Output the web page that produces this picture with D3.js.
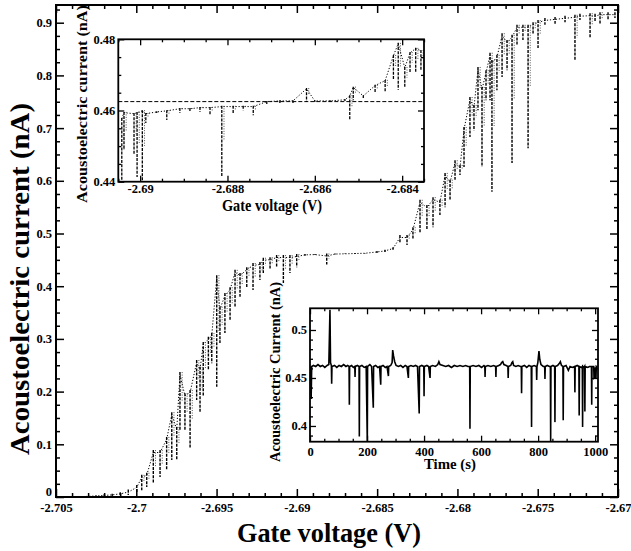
<!DOCTYPE html>
<html><head><meta charset="utf-8">
<script src="https://cdn.jsdelivr.net/npm/d3@7"></script>
<style>
body{margin:0;background:#fff}
svg{display:block}
text{font-family:"Liberation Serif","DejaVu Serif",serif;font-weight:bold;fill:#000}
</style>
</head><body>
<svg id="c" width="631" height="551"></svg>
<script>
// Full gate sweep: gate voltage (V) with the lower / upper extent of the current (nA) at each step
const sweepV = [-2.7048,-2.7040,-2.7032,-2.7025,-2.7020,-2.7015,-2.7010,-2.7005,-2.69997,-2.69966,
  -2.69935,-2.69894,-2.69852,-2.69811,-2.69779,-2.69748,-2.69728,-2.69697,-2.69665,-2.69624,
  -2.69603,-2.69583,-2.69551,-2.69530,-2.69499,-2.69479,-2.69448,-2.69416,-2.69385,-2.69354,
  -2.69312,-2.69273,-2.69230,-2.69209,-2.69167,-2.69126,-2.69084,-2.69043,-2.69001,-2.68949,
  -2.68887,-2.68814,-2.68762,-2.68700,-2.68638,-2.68576,-2.68501,-2.68451,-2.68401,-2.68358,
  -2.68314,-2.68277,-2.68233,-2.68190,-2.68152,-2.68109,-2.68077,-2.68046,-2.68015,-2.67984,
  -2.67959,-2.67922,-2.67897,-2.67872,-2.67847,-2.67822,-2.67797,-2.67785,-2.67754,-2.67722,
  -2.67691,-2.67660,-2.67629,-2.67592,-2.67560,-2.67529,-2.67498,-2.67455,-2.67392,-2.67330,
  -2.67268,-2.67237,-2.67174,-2.67143,-2.67112,-2.67062,-2.67019];
const sweepLo = [0.000,0.000,0.000,0.001,0.001,0.002,0.003,0.004,0.008,0.013,
  0.019,0.027,0.038,0.051,0.070,0.070,0.127,0.127,0.093,0.184,
  0.161,0.190,0.241,0.254,0.209,0.292,0.311,0.336,0.361,0.380,
  0.398,0.393,0.412,0.425,0.431,0.436,0.406,0.425,0.436,0.458,
  0.459,0.441,0.460,0.461,0.461,0.462,0.463,0.465,0.469,0.482,
  0.478,0.488,0.501,0.507,0.512,0.535,0.550,0.564,0.602,0.611,
  0.626,0.683,0.696,0.734,0.626,0.753,0.753,0.579,0.772,0.797,
  0.810,0.634,0.858,0.867,0.662,0.877,0.852,0.896,0.898,0.901,
  0.829,0.905,0.871,0.901,0.896,0.905,0.909];
const sweepHi = [0.001,0.001,0.002,0.003,0.005,0.006,0.009,0.014,0.023,0.042,
  0.046,0.089,0.089,0.114,0.161,0.133,0.237,0.197,0.203,0.260,
  0.247,0.294,0.304,0.311,0.421,0.361,0.387,0.398,0.431,0.425,
  0.436,0.444,0.446,0.454,0.455,0.459,0.459,0.459,0.461,0.461,
  0.461,0.462,0.462,0.462,0.463,0.463,0.467,0.469,0.474,0.497,
  0.497,0.512,0.564,0.554,0.569,0.564,0.615,0.602,0.639,0.630,
  0.702,0.759,0.744,0.816,0.778,0.810,0.843,0.829,0.839,0.880,
  0.867,0.877,0.896,0.896,0.896,0.901,0.905,0.909,0.911,0.913,
  0.915,0.917,0.918,0.917,0.920,0.920,0.920];
const mainXTicks = [-2.705,-2.7,-2.695,-2.69,-2.685,-2.68,-2.675,-2.67];
const mainXLabels = ["-2.705","-2.7","-2.695","-2.69","-2.685","-2.68","-2.675","-2.67"];
const mainYTicks = [0,0.1,0.2,0.3,0.4,0.5,0.6,0.7,0.8,0.9];
const mainYLabels = ["0","0.1","0.2","0.3","0.4","0.5","0.6","0.7","0.8","0.9"];

// Fine sweep across the first plateau
const zoomV = [-2.69042,-2.69037,-2.69014,-2.69007,-2.68995,-2.68987,-2.68962,-2.68939,-2.68909,-2.68886,
  -2.68863,-2.68840,-2.68813,-2.68787,-2.68764,-2.68741,-2.68710,-2.68680,-2.68650,-2.68619,
  -2.68600,-2.68565,-2.68531,-2.68520,-2.68512,-2.68489,-2.68462,-2.68439,-2.68420,-2.68409,
  -2.68394,-2.68382,-2.68369,-2.68357];
const zoomLo = [0.4400,0.4489,0.4475,0.4413,0.4400,0.4565,0.4593,0.4573,0.4593,0.4596,
  0.4596,0.4587,0.4416,0.4593,0.4601,0.4587,0.4618,0.4621,0.4621,0.4624,
  0.4624,0.4624,0.4627,0.4573,0.4629,0.4635,0.4649,0.4652,0.4686,0.4658,
  0.4663,0.4705,0.4708,0.4714];
const zoomHi = [0.4579,0.4596,0.4593,0.4596,0.4601,0.4593,0.4598,0.4601,0.4607,0.4607,
  0.4610,0.4610,0.4613,0.4613,0.4613,0.4613,0.4627,0.4629,0.4629,0.4663,
  0.4629,0.4629,0.4632,0.4643,0.4667,0.4643,0.4672,0.4686,0.4756,0.4790,
  0.4722,0.4764,0.4776,0.4770];
const zoomRef = 0.4625;
const zoomXTicks = [-2.69,-2.688,-2.686,-2.684];
const zoomXLabels = ["-2.69","-2.688","-2.686","-2.684"];
const zoomYTicks = [0.44,0.46,0.48];
const zoomYLabels = ["0.44","0.46","0.48"];

// Current trace in time at fixed gate voltage
const timeS = [0,2,4,6,12,20,28,36,44,52,60,66,70,72,75,76,77,86,94,102,110,118,126,132,137,138,139,146,152,157,158,159,
  166,172,173,174,182,190,197,201,202,210,216,222,223,230,238,244,248,249,256,264,270,275,276,283,288,290,293,297,302,
  310,318,326,334,340,345,346,354,362,370,377,383,384,392,399,400,401,410,416,421,422,430,440,448,452,456,466,476,486,
  496,506,516,526,536,546,554,560,561,562,572,582,592,602,610,613,614,615,624,634,644,651,652,653,662,668,672,676,680,
  688,694,695,696,704,708,711,714,722,730,738,741,742,743,752,760,768,776,777,778,786,794,795,796,799,803,806,810,818,
  823,824,825,832,840,843,844,845,852,858,859,860,868,874,878,882,887,888,889,898,906,912,920,928,929,930,937,943,944,
  945,952,955,956,957,961,963,964,965,974,980,987,988,989,995,996,999,1001,1003,1004,1008];
const timeI = [0.455,0.462,0.428,0.462,0.463,0.462,0.464,0.462,0.463,0.461,0.463,0.464,0.521,0.466,0.463,0.444,0.462,0.463,0.461,0.463,0.462,0.464,0.462,0.463,0.462,0.422,0.462,0.463,0.461,0.462,0.451,0.462,
  0.463,0.462,0.389,0.462,0.463,0.461,0.462,0.383,0.462,0.464,0.462,0.419,0.462,0.463,0.461,0.462,0.443,0.462,0.463,0.461,0.462,0.452,0.462,0.463,0.466,0.479,0.473,0.467,0.463,
  0.462,0.463,0.461,0.463,0.462,0.450,0.462,0.463,0.462,0.463,0.462,0.413,0.462,0.463,0.462,0.431,0.462,0.463,0.462,0.450,0.462,0.463,0.462,0.464,0.467,0.464,0.463,0.462,0.463,
  0.461,0.463,0.462,0.463,0.462,0.463,0.462,0.462,0.397,0.462,0.463,0.462,0.463,0.461,0.463,0.462,0.451,0.462,0.463,0.462,0.463,0.462,0.451,0.462,0.463,0.464,0.466,0.467,0.464,
  0.463,0.462,0.450,0.462,0.463,0.466,0.467,0.463,0.462,0.463,0.462,0.462,0.434,0.462,0.463,0.461,0.463,0.462,0.399,0.462,0.463,0.462,0.448,0.462,0.466,0.478,0.469,0.464,0.462,
  0.462,0.449,0.462,0.463,0.462,0.462,0.383,0.462,0.463,0.462,0.404,0.462,0.463,0.465,0.467,0.463,0.462,0.406,0.462,0.463,0.458,0.462,0.461,0.462,0.435,0.462,0.463,0.462,0.411,
  0.462,0.461,0.462,0.399,0.462,0.461,0.462,0.415,0.462,0.461,0.462,0.462,0.422,0.462,0.462,0.450,0.451,0.461,0.450,0.462,0.461];
const timeXTicks = [0,200,400,600,800,1000];
const timeXLabels = ["0","200","400","600","800","1000"];
const timeYTicks = [0.4,0.45,0.5];
const timeYLabels = ["0.4","0.45","0.5"];

const svg = d3.select("#c");

// Draws inward-pointing major/minor ticks on all four sides plus labels on bottom/left
function frameAxes(g, x, y, o) {
  const [x0, x1] = x.range(), [yb, yt] = y.range();
  const style = sel => {
    sel.select(".domain").remove();
    sel.selectAll(".tick line").attr("stroke", "#000").attr("stroke-width", o.tw);
    sel.selectAll(".tick text").style("font-size", o.fs + "px")
      .style("font-family", '"Liberation Serif",serif').style("font-weight", "bold");
  };
  const add = (axis, tx, ty) => g.append("g").attr("transform", `translate(${tx},${ty})`).call(axis).call(style);
  add(d3.axisBottom(x).tickValues(o.xMajor).tickSize(-o.maj).tickPadding(o.xPad).tickFormat((d, i) => o.xLabels[i]), 0, yb);
  add(d3.axisBottom(x).tickValues(o.xMinor).tickSize(-o.min).tickFormat(""), 0, yb);
  add(d3.axisTop(x).tickValues(o.xMajor).tickSize(-o.maj).tickFormat(""), 0, yt);
  add(d3.axisTop(x).tickValues(o.xMinor).tickSize(-o.min).tickFormat(""), 0, yt);
  const left = add(d3.axisLeft(y).tickValues(o.yMajor).tickSize(-o.maj).tickPadding(o.yPad).tickFormat((d, i) => o.yLabels[i]), x0, 0);
  add(d3.axisLeft(y).tickValues(o.yMinor).tickSize(-o.min).tickFormat(""), x0, 0);
  add(d3.axisRight(y).tickValues(o.yMajor).tickSize(-o.maj).tickFormat(""), x1, 0);
  add(d3.axisRight(y).tickValues(o.yMinor).tickSize(-o.min).tickFormat(""), x1, 0);
  g.append("rect").attr("x", x0).attr("y", yt).attr("width", x1 - x0).attr("height", yb - yt)
    .attr("fill", "none").attr("stroke", "#000").attr("stroke-width", o.fw);
  return left;
}

// Each sweep step: a dashed vertical streak over its current range, joined by a dotted trace through the step centres
function sweepMarks(g, x, y, V, lo, hi, clip, w) {
  const pts = V.map((v, i) => ({ v, lo: lo[i], hi: hi[i] }));
  const span = y.domain()[1] - y.domain()[0];
  const c = g.append("g").attr("clip-path", `url(#${clip})`);
  c.append("path").datum(pts)
    .attr("d", d3.line().x(d => x(d.v)).y(d => y(d.hi - Math.min(d.hi - d.lo, 0.01 * span) / 2)))
    .attr("fill", "none").attr("stroke", "#000").attr("stroke-width", 1)
    .attr("stroke-dasharray", "1.2,1.8");
  c.selectAll("line.step").data(pts).join("line").attr("class", "step")
    .attr("x1", d => x(d.v)).attr("x2", d => x(d.v))
    .attr("y1", d => y(d.hi)).attr("y2", d => y(d.lo))
    .attr("stroke", "#000").attr("stroke-width", w).attr("stroke-dasharray", "3,1.2");
  c.selectAll("line.twin").data(pts.filter(d => d.hi - d.lo > 0.02 * span))
    .join("line").attr("class", "twin")
    .attr("x1", d => x(d.v) + 2.2).attr("x2", d => x(d.v) + 2.2)
    .attr("y1", d => y(d.hi)).attr("y2", d => y((d.lo + d.hi) / 2))
    .attr("stroke", "#444").attr("stroke-width", 0.9).attr("stroke-dasharray", "1,1.5");
}

function rotTitle(g, txt, cx, cy, fs, len) {
  g.append("text").attr("transform", `translate(${cx},${cy}) rotate(-90)`)
    .attr("text-anchor", "middle").style("font-size", fs + "px")
    .attr("textLength", len).attr("lengthAdjust", "spacingAndGlyphs").text(txt);
}
function title(g, txt, cx, cy, fs, len) {
  g.append("text").attr("x", cx).attr("y", cy).attr("text-anchor", "middle").style("font-size", fs + "px")
    .attr("textLength", len).attr("lengthAdjust", "spacingAndGlyphs").text(txt);
}

/* ---------- main panel ---------- */
const mx = d3.scaleLinear().domain([-2.705, -2.67]).range([56, 618]);
const my = d3.scaleLinear().domain([0, 0.9336]).range([497, 5]);
const main = svg.append("g");
main.append("clipPath").attr("id", "clipMain").append("rect")
  .attr("x", 56).attr("y", 5).attr("width", 562).attr("height", 492);
sweepMarks(main, mx, my, sweepV, sweepLo, sweepHi, "clipMain", 1.4);
const mainLeft = frameAxes(main, mx, my, {
  xMajor: mainXTicks, xLabels: mainXLabels, xMinor: d3.range(-2.704, -2.6705, 0.001).filter(v => Math.abs(Math.round(v * 200) - v * 200) > 0.01),
  yMajor: mainYTicks, yLabels: mainYLabels, yMinor: d3.range(0.025, 0.93, 0.025).filter(v => Math.abs(Math.round(v * 10) - v * 10) > 0.01),
  maj: 8, min: 4, tw: 1.5, fw: 2, fs: 12.5, xPad: 6, yPad: 4
});
// the bottom current label sits just above the corner so it clears "-2.705"
mainLeft.selectAll(".tick text").filter((d, i) => i === 0).attr("dy", "-0.15em");
rotTitle(main, "Acoustoelectric current (nA)", 29, 279, 27, 352);
title(main, "Gate voltage (V)", 329, 542, 27, 184);

/* ---------- fine-sweep inset ---------- */
const ix = d3.scaleLinear().domain([-2.6905, -2.6835]).range([118.3, 424]);
const iy = d3.scaleLinear().domain([0.44, 0.48]).range([181.7, 39.3]);
const ins1 = svg.append("g");
ins1.append("rect").attr("x", 118.3).attr("y", 39.3).attr("width", 305.7).attr("height", 142.4).attr("fill", "#fff");
ins1.append("clipPath").attr("id", "clipIns1").append("rect")
  .attr("x", 118.3).attr("y", 39.3).attr("width", 305.7).attr("height", 142.4);
ins1.append("line").attr("x1", 118.3).attr("x2", 424).attr("y1", iy(zoomRef)).attr("y2", iy(zoomRef))
  .attr("stroke", "#000").attr("stroke-width", 1).attr("stroke-dasharray", "4,2");
sweepMarks(ins1, ix, iy, zoomV, zoomLo, zoomHi, "clipIns1", 1.3);
frameAxes(ins1, ix, iy, {
  xMajor: zoomXTicks, xLabels: zoomXLabels, xMinor: d3.range(-2.6905, -2.6835, 0.0005).filter(v => Math.abs(Math.round(v * 500) - v * 500) > 0.01),
  yMajor: zoomYTicks, yLabels: zoomYLabels, yMinor: d3.range(0.445, 0.48, 0.005).filter(v => Math.abs(Math.round(v * 50) - v * 50) > 0.01),
  maj: 6, min: 3, tw: 1.3, fw: 1.8, fs: 12.5, xPad: 2, yPad: 3
});
rotTitle(ins1, "Acoustoelectric current (nA)", 87, 104, 15.5, 198);
title(ins1, "Gate voltage (V)", 272, 211, 16, 100);

/* ---------- time-trace inset ---------- */
const tx = d3.scaleLinear().domain([0, 1010]).range([310, 598]);
const ty = d3.scaleLinear().domain([0.3836, 0.5226]).range([441.7, 308.3]);
const ins2 = svg.append("g");
ins2.append("rect").attr("x", 310).attr("y", 308.3).attr("width", 288).attr("height", 133.4).attr("fill", "#fff");
ins2.append("clipPath").attr("id", "clipIns2").append("rect")
  .attr("x", 310).attr("y", 308.3).attr("width", 288).attr("height", 133.4);
ins2.append("path").datum(timeS.map((t, i) => [t, timeI[i]]))
  .attr("clip-path", "url(#clipIns2)")
  .attr("d", d3.line().x(d => tx(d[0])).y(d => ty(d[1])))
  .attr("fill", "none").attr("stroke", "#000").attr("stroke-width", 1.6);
frameAxes(ins2, tx, ty, {
  xMajor: timeXTicks, xLabels: timeXLabels, xMinor: d3.range(50, 1010, 50).filter(v => v % 200 !== 0),
  yMajor: timeYTicks, yLabels: timeYLabels, yMinor: d3.range(0.39, 0.52, 0.01).filter(v => Math.abs(Math.round(v * 20) - v * 20) > 0.01),
  maj: 6, min: 3, tw: 1.3, fw: 1.8, fs: 12.5, xPad: 5, yPad: 3
});
rotTitle(ins2, "Acoustoelectric Current (nA)", 280, 372, 14.5, 180);
title(ins2, "Time (s)", 450, 469, 15, 52);
</script>
</body></html>
